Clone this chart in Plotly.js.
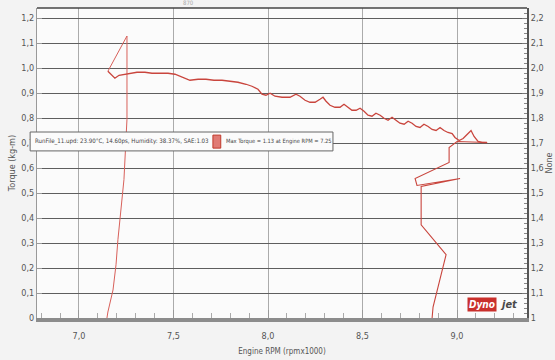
<!DOCTYPE html>
<html>
<head>
<meta charset="utf-8">
<script src="https://cdn.plot.ly/plotly-3.0.1.min.js"></script>
<style>html,body{margin:0;padding:0;background:#f3f3f3;}#chart{width:555px;height:360px;}</style>
</head>
<body>
<div id="chart"></div>
<script>
// Spike trace (rises from the base to the max-torque point)
const spikeRpm    = [7.148, 7.153, 7.180, 7.196, 7.206, 7.238, 7.254, 7.254, 7.153];
const spikeTorque = [0.000, 0.024, 0.112, 0.213, 0.313, 0.554, 0.795, 1.128, 0.987];

// Main torque curve
const rpm = [7.153,7.175,7.190,7.212,7.238,7.270,7.307,7.349,7.386,7.429,7.471,7.508,7.545,7.587,7.630,7.672,7.714,7.757,7.799,7.841,
             7.884,7.915,7.947,7.968,7.989,8.011,8.037,8.074,8.116,8.148,8.169,8.196,8.222,8.249,8.275,8.291,8.307,8.328,8.354,8.381,
             8.402,8.423,8.444,8.466,8.487,8.508,8.529,8.550,8.571,8.593,8.614,8.635,8.656,8.677,8.698,8.720,8.741,8.762,8.783,8.804,
             8.825,8.847,8.868,8.889,8.910,8.931,8.952,8.974,8.989,9.011,9.032,9.053,9.074,9.090,9.111,9.132,9.159];
const torque = [0.987,0.971,0.959,0.971,0.975,0.979,0.983,0.983,0.979,0.979,0.979,0.975,0.963,0.951,0.955,0.955,0.951,0.951,0.947,0.943,
                0.935,0.927,0.915,0.895,0.891,0.899,0.887,0.883,0.883,0.895,0.887,0.871,0.863,0.863,0.875,0.883,0.867,0.851,0.843,0.843,
                0.855,0.843,0.831,0.831,0.839,0.827,0.811,0.807,0.819,0.811,0.799,0.791,0.803,0.791,0.779,0.775,0.787,0.779,0.766,0.762,
                0.775,0.766,0.754,0.750,0.762,0.750,0.742,0.738,0.722,0.710,0.718,0.734,0.750,0.726,0.706,0.702,0.702];

// Tail trace at the end of the run
const tailRpm    = [9.159, 9.000, 8.958, 8.958, 8.778, 8.788, 9.016, 8.810, 8.810, 8.942, 8.873, 8.868];
const tailTorque = [0.702, 0.706, 0.682, 0.622, 0.558, 0.530, 0.558, 0.526, 0.373, 0.253, 0.044, 0.000];

// Tick labels
const xTickVals = [7.0, 7.5, 8.0, 8.5, 9.0];
const xTickText = ['7,0', '7,5', '8,0', '8,5', '9,0'];
const yTickVals = [0,0.1,0.2,0.3,0.4,0.5,0.6,0.7,0.8,0.9,1.0,1.1,1.2];
const yTickText = ['0','0,1','0,2','0,3','0,4','0,5','0,6','0,7','0,8','0,9','1,0','1,1','1,2'];
const y2TickVals = [1,1.1,1.2,1.3,1.4,1.5,1.6,1.7,1.8,1.9,2.0,2.1,2.2];
const y2TickText = ['1','1,1','1,2','1,3','1,4','1,5','1,6','1,7','1,8','1,9','2,0','2,1','2,2'];

const legendText = 'RunFile_11.upd: 23.90°C, 14.60ps, Humidity: 38.37%, SAE:1.03';
const maxText = 'Max Torque = 1.13 at Engine RPM = 7.25';

const FONT = '"Liberation Sans Narrow", "DejaVu Sans Condensed", "Liberation Sans", sans-serif';

const traces = [
  {x: spikeRpm, y: spikeTorque, type: 'scatter', mode: 'lines', line: {color: '#d8605a', width: 1}, hoverinfo: 'skip'},
  {x: rpm, y: torque, type: 'scatter', mode: 'lines', line: {color: '#c9453d', width: 1.3}, hoverinfo: 'skip'},
  {x: tailRpm, y: tailTorque, type: 'scatter', mode: 'lines', line: {color: '#c9453d', width: 1.1}, hoverinfo: 'skip'},
  {x: [7], y: [1.5], yaxis: 'y2', type: 'scatter', mode: 'markers', marker: {opacity: 0}, hoverinfo: 'skip'}
];

const layout = {
  width: 555, height: 360,
  margin: {l: 37, r: 28, t: 8, b: 42},
  paper_bgcolor: '#f3f3f3',
  plot_bgcolor: '#fbfbfb',
  showlegend: false,
  font: {family: FONT, size: 9, color: '#555'},
  xaxis: {
    range: [6.778, 9.370],
    tickvals: xTickVals, ticktext: xTickText,
    showgrid: true, gridcolor: '#ababab', gridwidth: 1,
    showline: true, linecolor: '#8c8c8c', linewidth: 4,
    ticks: 'inside', ticklen: 8, tickcolor: '#999',
    ticklabelstandoff: 6,
    minor: {dtick: 0.1, ticks: 'inside', ticklen: 5, tickcolor: '#aaa', showgrid: false},
    zeroline: false,
    tickfont: {family: FONT, size: 9, color: '#555'},
    title: {text: 'Engine RPM (rpmx1000)', font: {family: FONT, size: 8, color: '#555'}, standoff: 10}
  },
  yaxis: {
    range: [0, 1.24],
    tickvals: yTickVals, ticktext: yTickText,
    showgrid: true, gridcolor: '#5e5e5e', gridwidth: 1,
    showline: true, linecolor: '#999', linewidth: 1,
    ticks: 'inside', ticklen: 5, tickcolor: '#999',
    zeroline: false,
    tickfont: {family: FONT, size: 9, color: '#555'},
    title: {text: 'Torque (kg-m)', font: {family: FONT, size: 9, color: '#555'}, standoff: 4}
  },
  yaxis2: {
    overlaying: 'y', side: 'right',
    range: [1, 2.24],
    tickvals: y2TickVals, ticktext: y2TickText,
    showgrid: false,
    showline: true, linecolor: '#555', linewidth: 2,
    ticks: 'inside', ticklen: 5, tickcolor: '#777',
    minor: {dtick: 0.02, ticks: 'inside', ticklen: 3, tickcolor: '#888', showgrid: false},
    zeroline: false,
    tickfont: {family: FONT, size: 9, color: '#555'},
    title: {text: 'None', font: {family: FONT, size: 9, color: '#555'}, standoff: 2}
  },
  shapes: [
    {type: 'line', xref: 'paper', yref: 'paper', x0: 0, x1: 1, y0: 1, y1: 1, line: {color: '#444', width: 1.5}},
    {type: 'rect', xref: 'paper', yref: 'paper', x0: -0.014, x1: 0.604, y0: 0.539, y1: 0.600,
     fillcolor: '#fbfbfb', line: {color: '#666', width: 1}},
    {type: 'rect', xref: 'paper', yref: 'paper', x0: 0.359, x1: 0.375, y0: 0.548, y1: 0.590,
     fillcolor: '#e07a74', line: {color: '#c0392b', width: 1}}
  ],
  annotations: [
    {xref: 'paper', yref: 'paper', x: -0.008, y: 0.5695, xanchor: 'left', yanchor: 'middle', showarrow: false,
     text: legendText, font: {family: FONT, size: 6.1, color: '#444'}},
    {xref: 'paper', yref: 'paper', x: 0.381, y: 0.5695, xanchor: 'left', yanchor: 'middle', showarrow: false,
     text: maxText, font: {family: FONT, size: 5.7, color: '#444'}},
    {xref: 'paper', yref: 'paper', x: 0.878, y: 0.045, xanchor: 'left', yanchor: 'middle', showarrow: false,
     text: '<b><i>Dyno</i></b>', bgcolor: '#c9302c', borderpad: 1, font: {family: FONT, size: 10, color: '#ffffff'}},
    {xref: 'paper', yref: 'paper', x: 0.94, y: 0.045, xanchor: 'left', yanchor: 'middle', showarrow: false,
     text: '<b><i>jet</i></b>', font: {family: FONT, size: 11, color: '#4a4a4a'}},
    {xref: 'paper', yref: 'paper', x: 0.31, y: 1.0, xanchor: 'center', yanchor: 'bottom', showarrow: false,
     text: '870', font: {family: FONT, size: 6, color: '#aaa'}}
  ]
};

Plotly.newPlot('chart', traces, layout, {displayModeBar: false, staticPlot: true});
</script>
</body>
</html>
